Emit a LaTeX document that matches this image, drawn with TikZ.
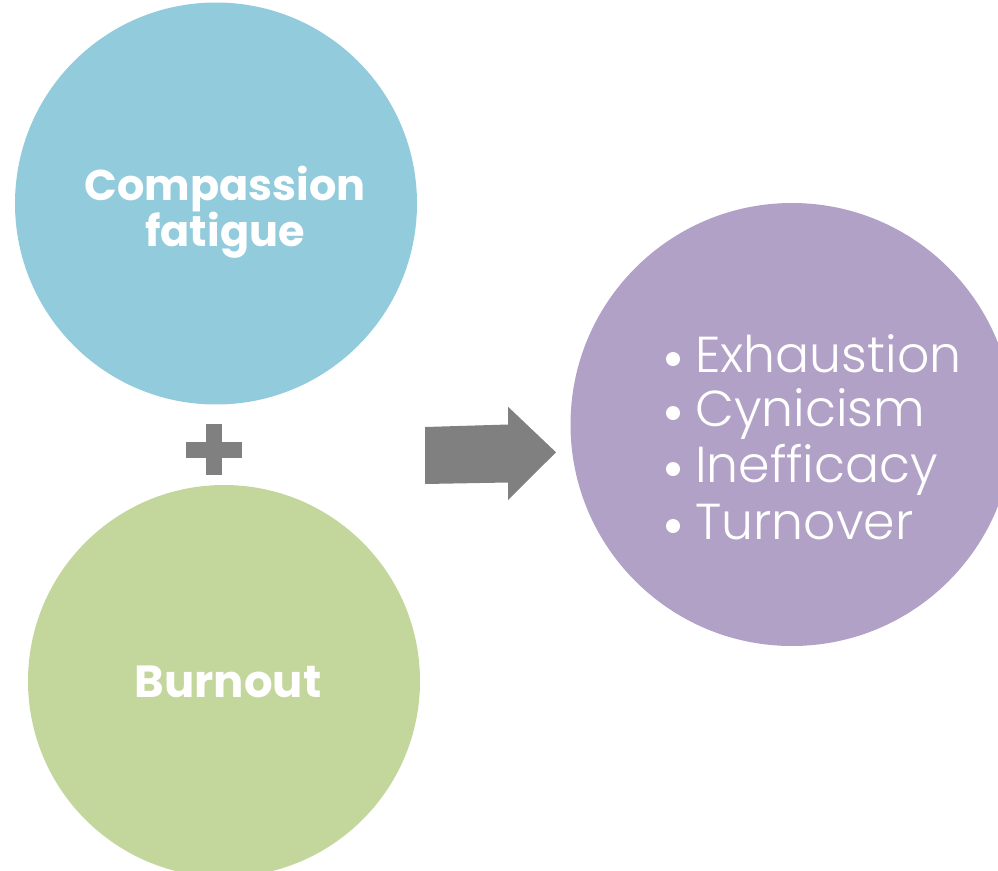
\documentclass[tikz,border=0pt]{standalone}
\usepackage{fontspec}
\setmainfont{Poppins}
\IfFontExistsTF{Poppins Light}{\newfontfamily\lightfont{Poppins Light}}{\newfontfamily\lightfont{Poppins}}
\definecolor{cblue}{HTML}{92CBDC}
\definecolor{cgreen}{HTML}{C3D69B}
\definecolor{cpurple}{HTML}{B2A1C7}
\definecolor{cgray}{HTML}{808080}
\tikzset{
  bubble/.style={circle, inner sep=0pt, draw=none},
  boldlabel/.style={text=white, font=\fontsize{43}{46}\selectfont\bfseries, align=center, inner sep=0pt},
  listitem/.style={text=white, font=\lightfont\fontsize{50.5}{56}\selectfont, anchor=base west, inner sep=0pt},
  bulletdot/.style={circle, fill=white, inner sep=0pt, minimum size=14pt},
  shapefill/.style={fill=cgray, draw=none}
}
\begin{document}
\begin{tikzpicture}[x=1pt,y=-1pt]
\useasboundingbox (0,0) rectangle (998,870);
\clip (0,0) rectangle (998,870);
% circles
\node[bubble, fill=cblue, minimum size=402pt] (cf) at (216,203.5) {};
\node[bubble, fill=cgreen, minimum size=392pt] (bo) at (224,681) {};
\node[bubble, fill=cpurple, minimum size=443pt] (res) at (792,424.5) {};
% plus sign
\fill[shapefill] (206,424) rectangle (222,475);
\fill[shapefill] (186,442) rectangle (242,458);
% arrow
\fill[shapefill] (425,427) -- (508,424.5) -- (508,406.7) -- (556,452.3) -- (508,500) -- (508,482.5) -- (425,484) -- cycle;
% labels
\node[boldlabel, anchor=base] (cft) at (225,200) {Compassion};
\node[boldlabel, anchor=base] (cft2) at (225,246) {fatigue};
\node[boldlabel, anchor=base, font=\fontsize{45}{46}\selectfont\bfseries] (bot) at (228,697) {Burnout};
% list
\foreach \t/\yy [count=\i] in {Exhaustion/372, Cynicism/426, Inefficacy/482, Turnover/539}{
  \node[listitem] (item\i) at (695,\yy) {\t};
  \node[bulletdot] (dot\i) at (673,\yy-13) {};
}
\end{tikzpicture}
\end{document}
